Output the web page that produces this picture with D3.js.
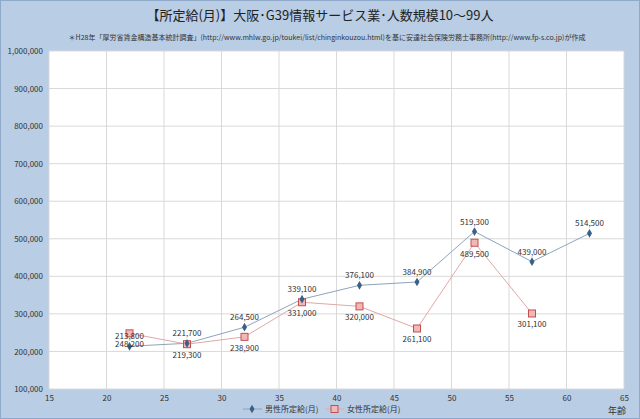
<!DOCTYPE html>
<html><head><meta charset="utf-8">
<script src="https://cdn.jsdelivr.net/npm/d3@7"></script>
<style>body{margin:0}svg{display:block}text{font-family:"Noto Sans CJK JP","Noto Sans",sans-serif}</style>
</head><body><svg id="c" width="640" height="419"></svg>
<script>
const ages = [22,27,32,37,42,47,52,57,62];
const male = [213800,221700,264500,339100,376100,384900,519300,439000,514500];
const female = [248200,219300,238900,331000,320000,261100,489500,301100];
const xTicks = [15,20,25,30,35,40,45,50,55,60,65];
const yTicks = [100000,200000,300000,400000,500000,600000,700000,800000,900000,1000000];

const svg = d3.select("#c");
svg.append("rect").attr("x",0.5).attr("y",0.5).attr("width",639).attr("height",418)
  .attr("fill","#b9cde5").attr("stroke","#8ea9c9");
const L=49,R=624,T=51,B=389;
const x=d3.scaleLinear().domain([15,65]).range([L,R]);
const y=d3.scaleLinear().domain([100000,1000000]).range([B,T]);
svg.append("rect").attr("x",L).attr("y",T).attr("width",R-L).attr("height",B-T).attr("fill","#fff");
const g=svg.append("g");
g.selectAll(".gy").data(yTicks).join("line").attr("x1",L).attr("x2",R)
 .attr("y1",d=>y(d)).attr("y2",d=>y(d)).attr("stroke","#d9d9d9");
g.selectAll(".gx").data(xTicks).join("line").attr("y1",T).attr("y2",B)
 .attr("x1",d=>x(d)).attr("x2",d=>x(d)).attr("stroke","#d9d9d9");
const fmt=d3.format(",");
svg.append("g").attr("transform",`translate(${L},0)`)
 .call(d3.axisLeft(y).tickValues(yTicks).tickFormat(fmt).tickSize(0).tickPadding(6))
 .call(a=>a.select(".domain").remove())
 .selectAll("text").attr("font-size",8).attr("fill","#333");
svg.append("g").attr("transform",`translate(0,${B})`)
 .call(d3.axisBottom(x).tickValues(xTicks).tickSize(0).tickPadding(6))
 .call(a=>a.select(".domain").remove())
 .selectAll("text").attr("font-size",8).attr("fill","#333");
svg.append("text").attr("x",617).attr("y",414).attr("font-size",9).attr("text-anchor","middle").attr("fill","#333").text("年齢");

const mData=ages.map((a,i)=>[a,male[i]]);
const fData=female.map((v,i)=>[ages[i],v]);
const line=d3.line().x(d=>x(d[0])).y(d=>y(d[1]));
svg.append("path").attr("d",line(fData)).attr("fill","none").attr("stroke","#e0a8a8").attr("stroke-width",1);
svg.append("path").attr("d",line(mData)).attr("fill","none").attr("stroke","#8ea4bc").attr("stroke-width",1);
svg.selectAll(".fm").data(fData).join("rect").attr("x",d=>x(d[0])-3.5).attr("y",d=>y(d[1])-3.5)
 .attr("width",7).attr("height",7).attr("fill","#f2b8b8").attr("stroke","#c0504d").attr("stroke-width",1);
svg.selectAll(".mm").data(mData).join("path").attr("d",d3.symbol(d3.symbolDiamond,22))
 .attr("transform",d=>`translate(${x(d[0])},${y(d[1])})`).attr("fill","#3b5f85");
svg.selectAll(".ml").data(mData).join("text").attr("x",d=>x(d[0])).attr("y",d=>y(d[1])-7)
 .attr("text-anchor","middle").attr("font-size",8).attr("fill","#333").text(d=>fmt(d[1]));
svg.selectAll(".fl").data(fData).join("text").attr("x",d=>x(d[0])).attr("y",d=>y(d[1])+14)
 .attr("text-anchor","middle").attr("font-size",8).attr("fill","#333").text(d=>fmt(d[1]));

svg.append("text").attr("x",320).attr("y",20).attr("text-anchor","middle").attr("font-size",13).attr("fill","#222")
 .text("【所定給(月)】大阪･G39情報サービス業･人数規模10～99人");
svg.append("text").attr("x",327).attr("y",40).attr("text-anchor","middle").attr("font-size",7).attr("fill","#333")
 .text("＊H28年「厚労省賃金構造基本統計調査」(http://www.mhlw.go.jp/toukei/list/chinginkouzou.html)を基に安達社会保険労務士事務所(http://www.fp-s.co.jp)が作成");

const lg=svg.append("g");
lg.append("line").attr("x1",243).attr("x2",262).attr("y1",409).attr("y2",409).attr("stroke","#8ea4bc");
lg.append("path").attr("d",d3.symbol(d3.symbolDiamond,22)).attr("transform","translate(252,409)").attr("fill","#3b5f85");
lg.append("text").attr("x",265).attr("y",412).attr("font-size",8).attr("fill","#333").text("男性所定給(月)");
lg.append("line").attr("x1",325).attr("x2",344).attr("y1",409).attr("y2",409).attr("stroke","#e0a8a8");
lg.append("rect").attr("x",331).attr("y",405.5).attr("width",7).attr("height",7).attr("fill","#f2b8b8").attr("stroke","#c0504d");
lg.append("text").attr("x",347).attr("y",412).attr("font-size",8).attr("fill","#333").text("女性所定給(月)");
</script></body></html>
